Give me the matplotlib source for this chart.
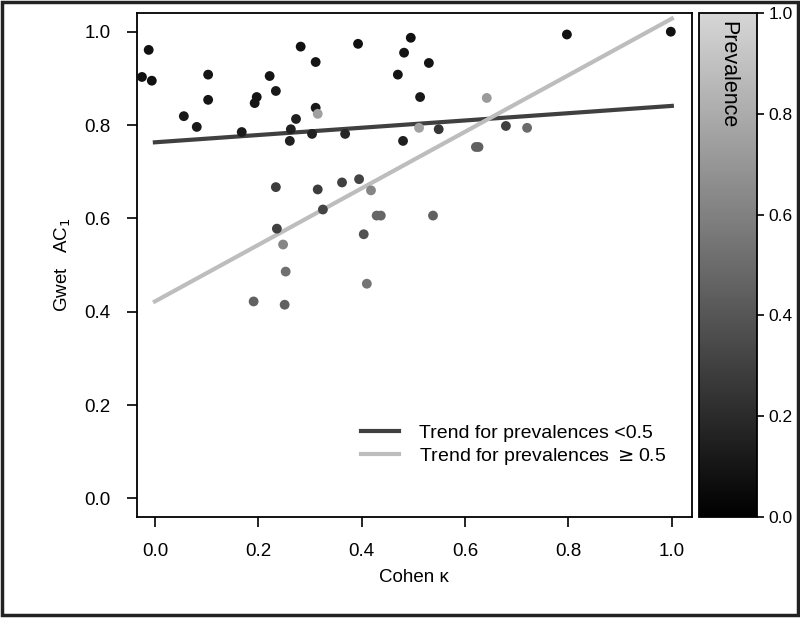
import matplotlib
matplotlib.use("Agg")
import matplotlib.pyplot as plt
import numpy as np
from matplotlib.colors import LinearSegmentedColormap
from matplotlib.patches import Rectangle

plt.rcParams['font.family'] = ['Liberation Sans', 'DejaVu Sans']

# Cohen kappa, Gwet AC1, prevalence for each study
kappa = [-0.025, -0.012, -0.006, 0.056, 0.081, 0.103, 0.103, 0.168, 0.193, 0.197,
         0.222, 0.234, 0.261, 0.263, 0.273, 0.282, 0.304, 0.311, 0.311, 0.315,
         0.368, 0.393, 0.470, 0.480, 0.482, 0.495, 0.511, 0.513, 0.530, 0.549,
         0.642, 0.621, 0.626, 0.679, 0.720, 0.797, 0.998,
         0.234, 0.315, 0.362, 0.395, 0.418, 0.325, 0.429, 0.437, 0.236, 0.404,
         0.248, 0.253, 0.410, 0.191, 0.251, 0.538]
ac1 = [0.903, 0.961, 0.895, 0.819, 0.796, 0.908, 0.854, 0.785, 0.847, 0.860,
       0.905, 0.873, 0.766, 0.791, 0.813, 0.968, 0.781, 0.935, 0.837, 0.824,
       0.781, 0.974, 0.908, 0.766, 0.955, 0.987, 0.794, 0.860, 0.933, 0.791,
       0.858, 0.753, 0.753, 0.798, 0.794, 0.994, 1.000,
       0.667, 0.662, 0.677, 0.684, 0.660, 0.619, 0.606, 0.606, 0.578, 0.566,
       0.544, 0.486, 0.460, 0.422, 0.415, 0.606]
prevalence = [0.08, 0.08, 0.08, 0.12, 0.12, 0.10, 0.10, 0.12, 0.10, 0.10,
              0.10, 0.12, 0.15, 0.15, 0.15, 0.08, 0.15, 0.10, 0.12, 0.75,
              0.18, 0.08, 0.10, 0.15, 0.10, 0.08, 0.75, 0.12, 0.10, 0.25,
              0.72, 0.45, 0.45, 0.30, 0.50, 0.08, 0.08,
              0.28, 0.28, 0.30, 0.32, 0.62, 0.32, 0.48, 0.48, 0.30, 0.38,
              0.62, 0.52, 0.55, 0.45, 0.45, 0.45]
cbar_ticks = [0.0, 0.2, 0.4, 0.6, 0.8, 1.0]
cbar_labels = ['0.0', '0.2', '0.4', '0.6', '0.8', '1.0']

# fitted trends (intercept, slope)
trend_low = [0.763, 0.078]
trend_high = [0.422, 0.606]
trend_x = np.array([0.0, 1.0])

cmap = LinearSegmentedColormap.from_list("grey", ["#000000", "#d6d6d6"])

fig = plt.figure(figsize=(8, 6.2), dpi=100)
ax = fig.add_axes([0.171, 0.166, 0.694, 0.813])
cax = fig.add_axes([0.874, 0.166, 0.072, 0.813])

sc = ax.scatter(kappa, ac1, c=prevalence, cmap=cmap, vmin=0, vmax=1,
                s=50, edgecolors='none', zorder=3)
ax.plot(trend_x, trend_low[0] + trend_low[1] * trend_x, color='#404040', lw=3,
        label='Trend for prevalences <0.5', zorder=2)
ax.plot(trend_x, trend_high[0] + trend_high[1] * trend_x, color='#bdbdbd', lw=3,
        label='Trend for prevalences $\\geq$0.5', zorder=2)

ax.set_xlim(-0.035, 1.039)
ax.set_ylim(-0.040, 1.040)
ax.set_xticks(np.arange(0, 1.01, 0.2))
ax.set_yticks(np.arange(0, 1.01, 0.2))
ax.xaxis.set_major_formatter(matplotlib.ticker.FormatStrFormatter('%.1f'))
ax.yaxis.set_major_formatter(matplotlib.ticker.FormatStrFormatter('%.1f'))
ax.tick_params(direction='out', length=7, width=1.2, labelsize=13.5, pad=12)
for s in ax.spines.values():
    s.set_linewidth(1.3)
ax.set_xlabel('Cohen \u03ba', fontsize=13.5, labelpad=6)
ax.set_ylabel('Gwet   AC$_1$', fontsize=13.5, labelpad=8)

leg = ax.legend(loc='lower right', bbox_to_anchor=(0.985, 0.065), frameon=False,
                fontsize=14, handlelength=2.0, handletextpad=1.0, labelspacing=0.2)

cb = fig.colorbar(sc, cax=cax)
cb.set_ticks(cbar_ticks)
cb.set_ticklabels(cbar_labels, fontsize=12.5)
cb.ax.tick_params(length=5, width=1.2)
cb.outline.set_linewidth(1.3)
cax.text(0.5, 0.985, 'Prevalence', rotation=-90, ha='center', va='top',
         fontsize=15.5, transform=cax.transAxes)

fig.patches.append(Rectangle((0.002, 0.008), 0.996, 0.989, transform=fig.transFigure,
                             fill=False, edgecolor='#222222', lw=2.5))

fig.savefig('out.png', dpi=100)
